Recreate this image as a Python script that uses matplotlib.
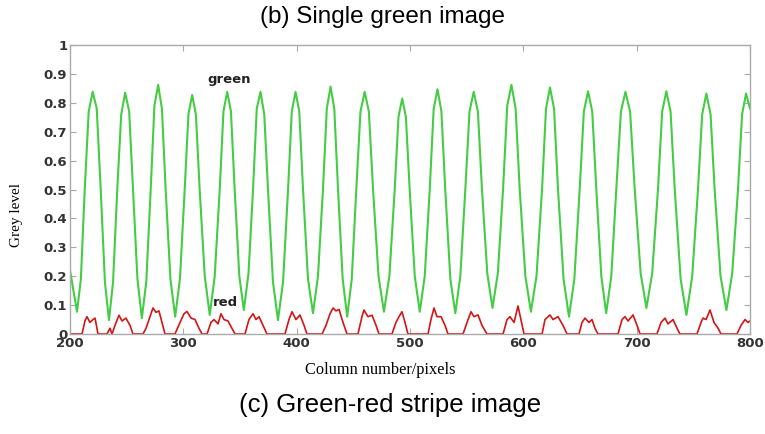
"""Grey level profile across the stripe image: green and red channels."""

import matplotlib
matplotlib.use("Agg")
from matplotlib.figure import Figure

# green channel profile (column, grey level)
green_x = [
    200.0,
    206.2, 209.6, 213.0, 216.5, 220.0, 223.6, 227.1, 230.8,
    234.4, 238.0, 241.7, 245.2, 248.7, 252.2, 255.6, 259.5,
    263.4, 267.3, 271.2, 274.5, 277.8, 281.1, 284.4, 288.6,
    292.8, 297.0, 301.2, 304.5, 307.8, 311.1, 314.4, 318.9,
    323.3, 327.7, 332.1, 335.4, 338.7, 342.0, 345.3, 349.4,
    353.4, 357.5, 361.5, 364.8, 368.1, 371.4, 374.7, 379.1,
    383.5, 388.0, 392.4, 395.7, 399.0, 402.3, 405.6, 410.0,
    414.4, 418.8, 423.2, 426.6, 429.9, 433.2, 436.5, 440.6,
    444.6, 448.6, 452.6, 456.3, 460.0, 463.7, 467.4, 472.2,
    477.0, 481.8, 486.5, 489.8, 493.1, 496.4, 499.7, 504.2,
    508.6, 513.0, 517.4, 520.9, 524.3, 527.7, 531.1, 535.6,
    540.0, 544.4, 548.8, 552.5, 556.2, 559.9, 563.5, 568.2,
    572.8, 577.5, 582.1, 585.8, 589.5, 593.2, 596.8, 601.8,
    606.7, 611.6, 616.5, 620.0, 623.5, 627.1, 630.6, 635.5,
    640.3, 645.0, 649.7, 653.4, 657.1, 660.8, 664.4, 668.8,
    673.1, 677.6, 682.0, 686.1, 690.1, 694.2, 698.3, 703.5,
    708.6, 713.7, 718.8, 722.5, 726.2, 729.9, 733.6, 738.8,
    743.9, 749.0, 754.1, 757.8, 761.5, 765.2, 768.8, 774.0,
    779.2, 784.3, 789.4, 793.0, 796.5, 800.0,
]
green_y = [
    0.22,
    0.077, 0.19, 0.50, 0.77, 0.838, 0.78, 0.50, 0.18,
    0.048, 0.18, 0.50, 0.76, 0.835, 0.77, 0.50, 0.19,
    0.055, 0.18, 0.50, 0.79, 0.862, 0.78, 0.50, 0.19,
    0.060, 0.19, 0.50, 0.76, 0.827, 0.76, 0.50, 0.20,
    0.066, 0.20, 0.50, 0.77, 0.838, 0.77, 0.50, 0.20,
    0.083, 0.21, 0.50, 0.78, 0.838, 0.76, 0.50, 0.18,
    0.048, 0.18, 0.50, 0.77, 0.838, 0.77, 0.50, 0.19,
    0.072, 0.20, 0.50, 0.78, 0.856, 0.78, 0.50, 0.19,
    0.060, 0.19, 0.50, 0.77, 0.838, 0.77, 0.50, 0.20,
    0.077, 0.20, 0.50, 0.75, 0.815, 0.75, 0.50, 0.20,
    0.077, 0.20, 0.50, 0.78, 0.847, 0.77, 0.50, 0.19,
    0.072, 0.20, 0.50, 0.77, 0.838, 0.77, 0.50, 0.21,
    0.090, 0.21, 0.50, 0.79, 0.862, 0.78, 0.50, 0.20,
    0.077, 0.20, 0.50, 0.78, 0.853, 0.78, 0.50, 0.19,
    0.060, 0.19, 0.50, 0.77, 0.840, 0.77, 0.50, 0.20,
    0.072, 0.20, 0.50, 0.77, 0.838, 0.77, 0.50, 0.21,
    0.090, 0.21, 0.50, 0.77, 0.840, 0.77, 0.50, 0.19,
    0.066, 0.20, 0.50, 0.76, 0.832, 0.76, 0.50, 0.20,
    0.083, 0.21, 0.50, 0.76, 0.832, 0.78,
]

# red channel profile: small humps near zero
red_x = [
    200.0,
    210.6, 213.2, 215.0, 217.6, 220.3, 222.1, 224.7,
    232.6, 235.3, 237.1, 239.7, 243.2, 245.9, 249.4, 252.9, 255.6,
    264.4, 267.1, 270.6, 273.2, 275.9, 278.5, 281.2, 283.8,
    292.6, 297.1, 300.6, 303.2, 306.8, 310.3, 313.8, 316.5,
    320.9, 324.4, 327.1, 330.6, 333.2, 335.9, 339.4, 342.9, 345.6,
    354.4, 357.9, 361.5, 364.1, 366.8, 370.3, 373.8,
    389.7, 393.2, 395.9, 399.4, 402.9, 406.5, 409.1,
    422.4, 425.9, 429.4, 432.1, 434.7, 437.4, 440.9, 444.4,
    454.1, 457.6, 459.4, 462.9, 466.5, 470.0, 472.6,
    484.1, 487.6, 490.3, 492.9, 495.6, 498.2,
    515.9, 518.5, 521.2, 523.8, 527.4, 530.9, 533.5,
    546.8, 550.3, 553.8, 556.5, 560.0, 563.5, 567.9,
    582.1, 585.6, 588.2, 591.8, 595.3, 597.9, 600.6,
    616.5, 619.1, 623.5, 626.2, 630.6, 635.0, 638.5,
    649.1, 651.8, 654.4, 657.9, 660.6, 663.2, 665.9,
    683.5, 687.1, 689.7, 692.4, 696.8, 700.3, 703.0,
    717.9, 721.5, 725.0, 727.6, 732.1, 735.6, 738.2,
    753.2, 756.8, 758.5, 761.2, 764.7, 768.2, 771.8, 774.4,
    788.5, 792.1, 795.6, 798.2, 800.0,
]
red_y = [
    0.0,
    0.0, 0.045, 0.06, 0.04, 0.05, 0.055, 0.0,
    0.0, 0.02, 0.0, 0.03, 0.065, 0.045, 0.055, 0.03, 0.0,
    0.0, 0.02, 0.06, 0.09, 0.075, 0.08, 0.04, 0.0,
    0.0, 0.04, 0.07, 0.078, 0.055, 0.05, 0.02, 0.0,
    0.0, 0.04, 0.05, 0.035, 0.07, 0.05, 0.045, 0.02, 0.0,
    0.0, 0.05, 0.07, 0.05, 0.06, 0.03, 0.0,
    0.0, 0.05, 0.077, 0.05, 0.066, 0.03, 0.0,
    0.0, 0.03, 0.07, 0.09, 0.08, 0.085, 0.04, 0.0,
    0.0, 0.06, 0.083, 0.06, 0.065, 0.03, 0.0,
    0.0, 0.04, 0.06, 0.077, 0.04, 0.0,
    0.0, 0.05, 0.09, 0.06, 0.06, 0.03, 0.0,
    0.0, 0.04, 0.077, 0.06, 0.066, 0.03, 0.0,
    0.0, 0.05, 0.06, 0.04, 0.097, 0.05, 0.0,
    0.0, 0.05, 0.066, 0.05, 0.06, 0.03, 0.0,
    0.0, 0.04, 0.055, 0.04, 0.05, 0.02, 0.0,
    0.0, 0.05, 0.06, 0.045, 0.066, 0.03, 0.0,
    0.0, 0.04, 0.055, 0.035, 0.05, 0.02, 0.0,
    0.0, 0.04, 0.055, 0.05, 0.083, 0.04, 0.02, 0.0,
    0.0, 0.03, 0.05, 0.04, 0.045,
]

x_ticks = [200, 300, 400, 500, 600, 700, 800]
y_ticks = [0, 0.1, 0.2, 0.3, 0.4, 0.5, 0.6, 0.7, 0.8, 0.9, 1]
y_tick_labels = ["0", "0.1", "0.2", "0.3", "0.4", "0.5", "0.6", "0.7", "0.8", "0.9", "1"]

assert len(green_x) == len(green_y)
assert len(red_x) == len(red_y)

fig = Figure(figsize=(7.65, 4.34), dpi=100)
fig.patch.set_facecolor("white")
ax = fig.add_axes([0.0915, 0.2304, 0.8889, 0.6659])

ax.plot(green_x, green_y, color="#44cc44", lw=1.5, solid_joinstyle="round")
ax.plot(red_x, red_y, color="#d41515", lw=1.2, solid_joinstyle="round")

ax.set_xlim(200, 800)
ax.set_ylim(0, 1)
ax.set_xticks(x_ticks)
ax.set_yticks(y_ticks)
ax.set_yticklabels(y_tick_labels)
ax.tick_params(direction="in", top=True, right=True, length=4, width=0.8,
               color="#aaaaaa", labelsize=9.5, labelcolor="#333333", pad=2)
for lab in ax.get_xticklabels() + ax.get_yticklabels():
    lab.set_fontweight("bold")
for sp in ax.spines.values():
    sp.set_color("#aaaaaa")
    sp.set_linewidth(1.0)

ax.text(321, 0.879, "green", fontsize=9.5, fontweight="bold", color="#222222", va="center")
ax.text(326, 0.109, "red", fontsize=9.5, fontweight="bold", color="#222222", va="center")

fig.text(0.5, 0.961, "(b) Single green image", ha="center", va="center",
         fontsize=17.5, family="Liberation Sans")
fig.text(0.497, 0.147, "Column number/pixels", ha="center", va="center",
         fontsize=11.8, family="Liberation Serif")
fig.text(0.022, 0.505, "Grey level", ha="center", va="center", rotation=90,
         fontsize=11, family="Liberation Serif")
fig.text(0.51, 0.067, "(c) Green-red stripe image", ha="center", va="center",
         fontsize=18.5, family="Liberation Sans")

fig.savefig("out.png", dpi=100)
